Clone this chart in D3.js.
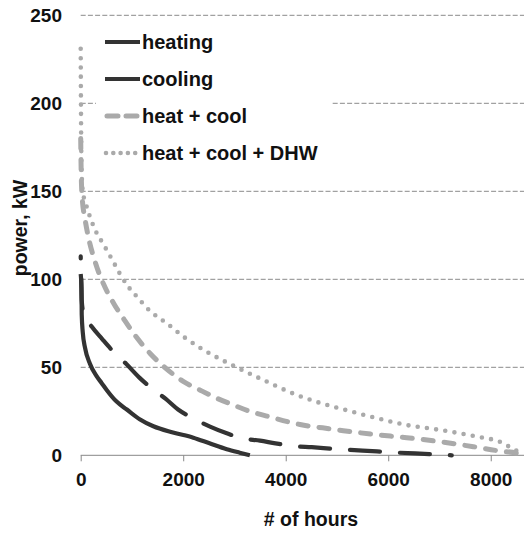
<!DOCTYPE html>
<html>
<head>
<meta charset="utf-8">
<script src="https://cdn.jsdelivr.net/npm/d3@7"></script>
<style>
  html, body { margin: 0; padding: 0; background: #fff; }
  svg { display: block; }
  text { font-family: "Liberation Sans", Arial, sans-serif; font-weight: bold; fill: #111; }
</style>
</head>
<body>
<script>
// ---- data (hours, kW) ----
const heating = [[0,103],[15,95],[20,80],[40,70],[85,61],[180,52],[310,45],[410,41],[510,37],[700,30.5],[900,26],[1150,20.5],[1418,16.5],[1800,13],[2197,10],[2500,7],[2850,3.5],[3100,1.5],[3300,0]];
const cooling = [[0,113],[10,100],[20,88],[60,80],[218,73],[420,66],[633,59],[886,52],[1150,44],[1387,38],[1660,32],[1900,26],[2197,21],[2523,16.3],[2850,12.5],[3141,9.7],[3498,8.3],[3800,6.8],[4148,5.3],[4507,4.6],[5060,3.4],[5500,2.7],[6200,1.5],[6800,0.7],[7239,0]];
const heatCool = [[0,180],[10,160],[30,146],[80,135],[150,124],[280,110],[450,97],[650,86],[850,77],[1026,69.5],[1350,58],[1679,49],[2000,42],[2332,37],[2650,32.5],[2978,28.6],[3300,25],[3629,22.3],[4279,17.5],[4929,14.8],[5124,14],[5710,11.9],[6361,10],[7011,7.7],[7661,4.9],[8181,2.4],[8507,1.2],[8600,0]];
const heatCoolDhw = [[0,231],[5,200],[15,165],[40,150],[100,143],[200,134],[300,127],[420,121],[540,115],[636,110],[767,103],[923,96],[1100,90],[1353,82],[1679,75],[2002,67.5],[2392,60],[3044,50],[3563,42.8],[4215,34.3],[4929,27.6],[5124,26.1],[5710,21.6],[6361,17.2],[7011,14.4],[7661,11],[8246,6.8],[8410,4],[8572,1.5],[8640,0]];
const seriesNames = ["heating", "cooling", "heat + cool", "heat + cool + DHW"];
const xTicks = [0, 2000, 4000, 6000, 8000];
const yTicks = [0, 50, 100, 150, 200, 250];
const xTitle = "# of hours";
const yTitle = "power, kW";

const W = 524, H = 533;
const FONT = '"Liberation Sans", Arial, sans-serif';
const svg = d3.select("body").append("svg").attr("width", W).attr("height", H);

const x = d3.scaleLinear().domain([0, 8760]).range([80.7, 529.7]);
const y = d3.scaleLinear().domain([0, 250]).range([455.3, 15.3]);

// gridlines
svg.append("g").selectAll("line").data(yTicks.filter(d => d > 0)).join("line")
  .attr("x1", x(0)).attr("x2", W)
  .attr("y1", d => y(d)).attr("y2", d => y(d))
  .attr("stroke", "#8a8a8a").attr("stroke-width", 1).attr("stroke-dasharray", "5 2.2");

// x axis
const xAxis = d3.axisBottom(x).tickValues(xTicks).tickSize(6).tickPadding(11).tickFormat(d3.format("d"));
const gx = svg.append("g").attr("transform", `translate(0,${y(0)})`).call(xAxis);
gx.select(".domain").attr("stroke", "#888").attr("d", `M${x(0)},0H${W}`);
gx.selectAll(".tick line").attr("stroke", "#888");
gx.selectAll(".tick text").style("font-size", "19px").style("font-family", FONT).style("font-weight", "bold").attr("fill", "#111");

// y axis labels
const yAxis = d3.axisLeft(y).tickValues(yTicks).tickSize(0).tickPadding(0);
const gy = svg.append("g").attr("transform", `translate(62,0)`).call(yAxis);
gy.select(".domain").remove();
gy.selectAll(".tick text").style("font-size", "19px").style("font-family", FONT).style("font-weight", "bold").attr("fill", "#111");

// axis titles
svg.append("text").attr("x", 311).attr("y", 526).attr("text-anchor", "middle").style("font-size", "19.5px").text(xTitle);
svg.append("text").attr("transform", "translate(27,228) rotate(-90)").attr("text-anchor", "middle").style("font-size", "19.5px").text(yTitle);

// legend background
svg.append("rect").attr("x", 96).attr("y", 26).attr("width", 236).attr("height", 154).attr("fill", "#fff");

const styles = [
  { color: "#333", width: 4.2, dash: null, cap: "butt", ldash: null, off: 0 },
  { color: "#333", width: 4.2, dash: "30 20", cap: "round", ldash: null, off: 28 },
  { color: "#aaa", width: 5, dash: "10 11", cap: "round", ldash: "11 8", off: 0 },
  { color: "#aaa", width: 4.6, dash: "0 9.3", cap: "round", ldash: "0 7.3", off: 0 }
];
const allSeries = [heating, cooling, heatCool, heatCoolDhw];

const line = d3.line().x(d => x(d[0])).y(d => y(d[1])).curve(d3.curveMonotoneX);
const plot = svg.append("g");
allSeries.slice().reverse().forEach((s, ri) => {
  const i = allSeries.length - 1 - ri;
  const st = styles[i];
  plot.append("path").datum(s).attr("d", line)
    .attr("fill", "none").attr("stroke", st.color).attr("stroke-width", st.width)
    .attr("stroke-linecap", st.cap).attr("stroke-linejoin", "round")
    .attr("stroke-dasharray", st.dash).attr("stroke-dashoffset", st.off);
});

// legend
const legY = [42, 79, 116, 153];
const leg = svg.append("g");
seriesNames.forEach((n, i) => {
  const st = styles[i];
  leg.append("line").attr("x1", i === 3 ? 106 : (i === 2 ? 107 : 105)).attr("x2", i >= 2 ? 138 : 140)
    .attr("y1", legY[i]).attr("y2", legY[i])
    .attr("stroke", st.color).attr("stroke-width", st.width)
    .attr("stroke-linecap", i >= 2 ? "round" : "butt")
    .attr("stroke-dasharray", st.ldash);
  leg.append("text").attr("x", 142).attr("y", legY[i]).attr("dy", "0.35em")
    .style("font-size", "20px").text(n);
});
</script>
</body>
</html>
